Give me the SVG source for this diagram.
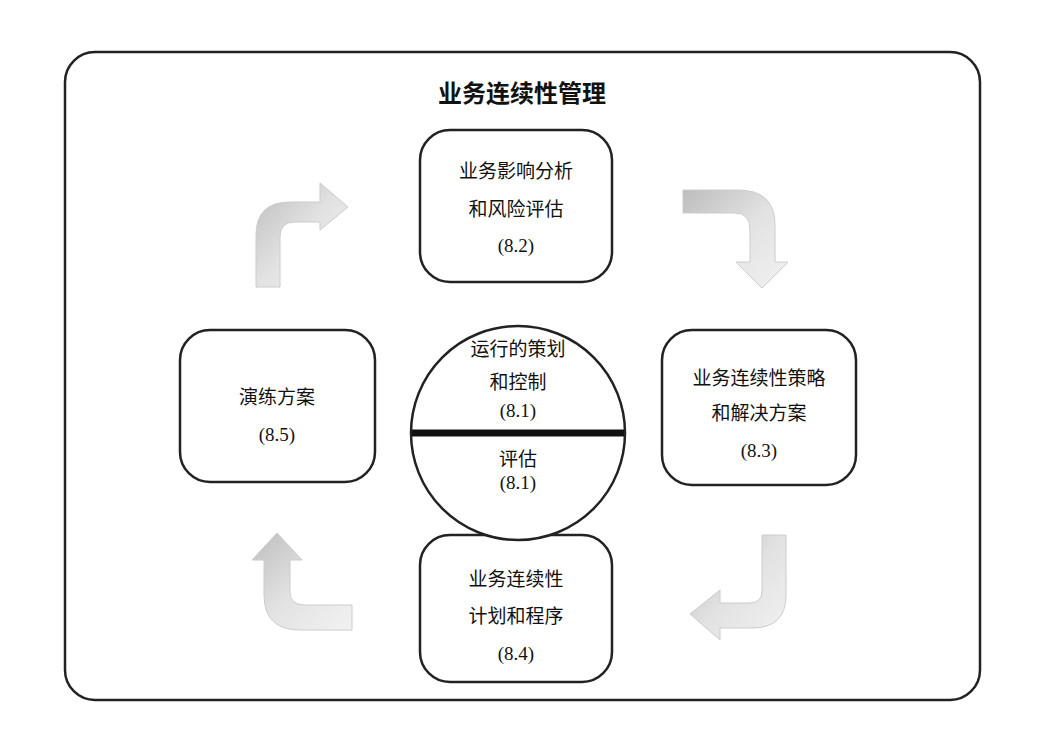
<svg xmlns="http://www.w3.org/2000/svg" width="1046" height="754" viewBox="0 0 1046 754">
<style>
.box{fill:#fff;stroke:#222;stroke-width:2.5}
.t{font-family:"Noto Sans CJK SC",sans-serif;font-size:19px;fill:#111;text-anchor:middle}
.n{font-family:"Liberation Serif","Noto Sans CJK SC",serif;font-size:19px;fill:#111;text-anchor:middle}
.arr{fill:url(#g);stroke:#ccc;stroke-width:1}
</style>
<defs>
<linearGradient id="g" x1="0" y1="0" x2="1" y2="1">
<stop offset="0" stop-color="#bdbdbd"/><stop offset="0.5" stop-color="#e2e2e2"/><stop offset="1" stop-color="#f2f2f2"/>
</linearGradient>
</defs>
<rect width="1046" height="754" fill="#fff"/>
<rect x="65" y="52" width="915" height="648" rx="30" fill="none" stroke="#222" stroke-width="2.5"/>
<text x="522" y="102" class="t" style="font-size:24px;font-weight:bold">业务连续性管理</text>
<g id="connectors">
<path class="arr" d="M256,287 L256,235 Q256,202 290,202 L320,202 L320,183 L348,207 L320,230 L320,222 L295,222 Q280,222 280,237 L280,287 Z"/>
<path class="arr" d="M683,190 L738,190 Q775,190 775,225 L775,262 L788,262 L762,288 L736,262 L750,262 L750,230 Q750,213 735,213 L683,213 Z"/>
<path class="arr" d="M786,535 L786,595 Q786,628 752,628 L720,628 L720,640 L690,614 L720,590 L720,603 L750,603 Q762,603 762,590 L762,535 Z"/>
<path class="arr" d="M352,630 L300,630 Q264,630 264,595 L264,560 L252,560 L277,533 L302,560 L290,560 L290,592 Q290,605 305,605 L352,605 Z"/>
</g>
<g id="n82"><rect class="box" x="420" y="130" width="192" height="152" rx="30"/>
<text class="t" x="516" y="178">业务影响分析</text><text class="t" x="516" y="216">和风险评估</text><text class="n" x="516" y="252">(8.2)</text></g>
<g id="n85"><rect class="box" x="180" y="330" width="195" height="152" rx="30"/>
<text class="t" x="277" y="404">演练方案</text><text class="n" x="277" y="441">(8.5)</text></g>
<g id="n83"><rect class="box" x="662" y="330" width="194" height="155" rx="30"/>
<text class="t" x="759" y="385">业务连续性策略</text><text class="t" x="759" y="420">和解决方案</text><text class="n" x="759" y="457">(8.3)</text></g>
<g id="n84"><rect class="box" x="420" y="535" width="192" height="147" rx="30"/>
<text class="t" x="516" y="586">业务连续性</text><text class="t" x="516" y="623">计划和程序</text><text class="n" x="516" y="660">(8.4)</text></g>
<g id="n81"><circle cx="518" cy="433" r="107" fill="#fff" stroke="#222" stroke-width="2.5"/>
<line x1="412" y1="433" x2="624" y2="433" stroke="#111" stroke-width="7"/>
<text class="t" x="518" y="356">运行的策划</text><text class="t" x="518" y="389">和控制</text><text class="n" x="518" y="417">(8.1)</text>
<text class="t" x="518" y="466">评估</text><text class="n" x="518" y="489">(8.1)</text></g>
</svg>
